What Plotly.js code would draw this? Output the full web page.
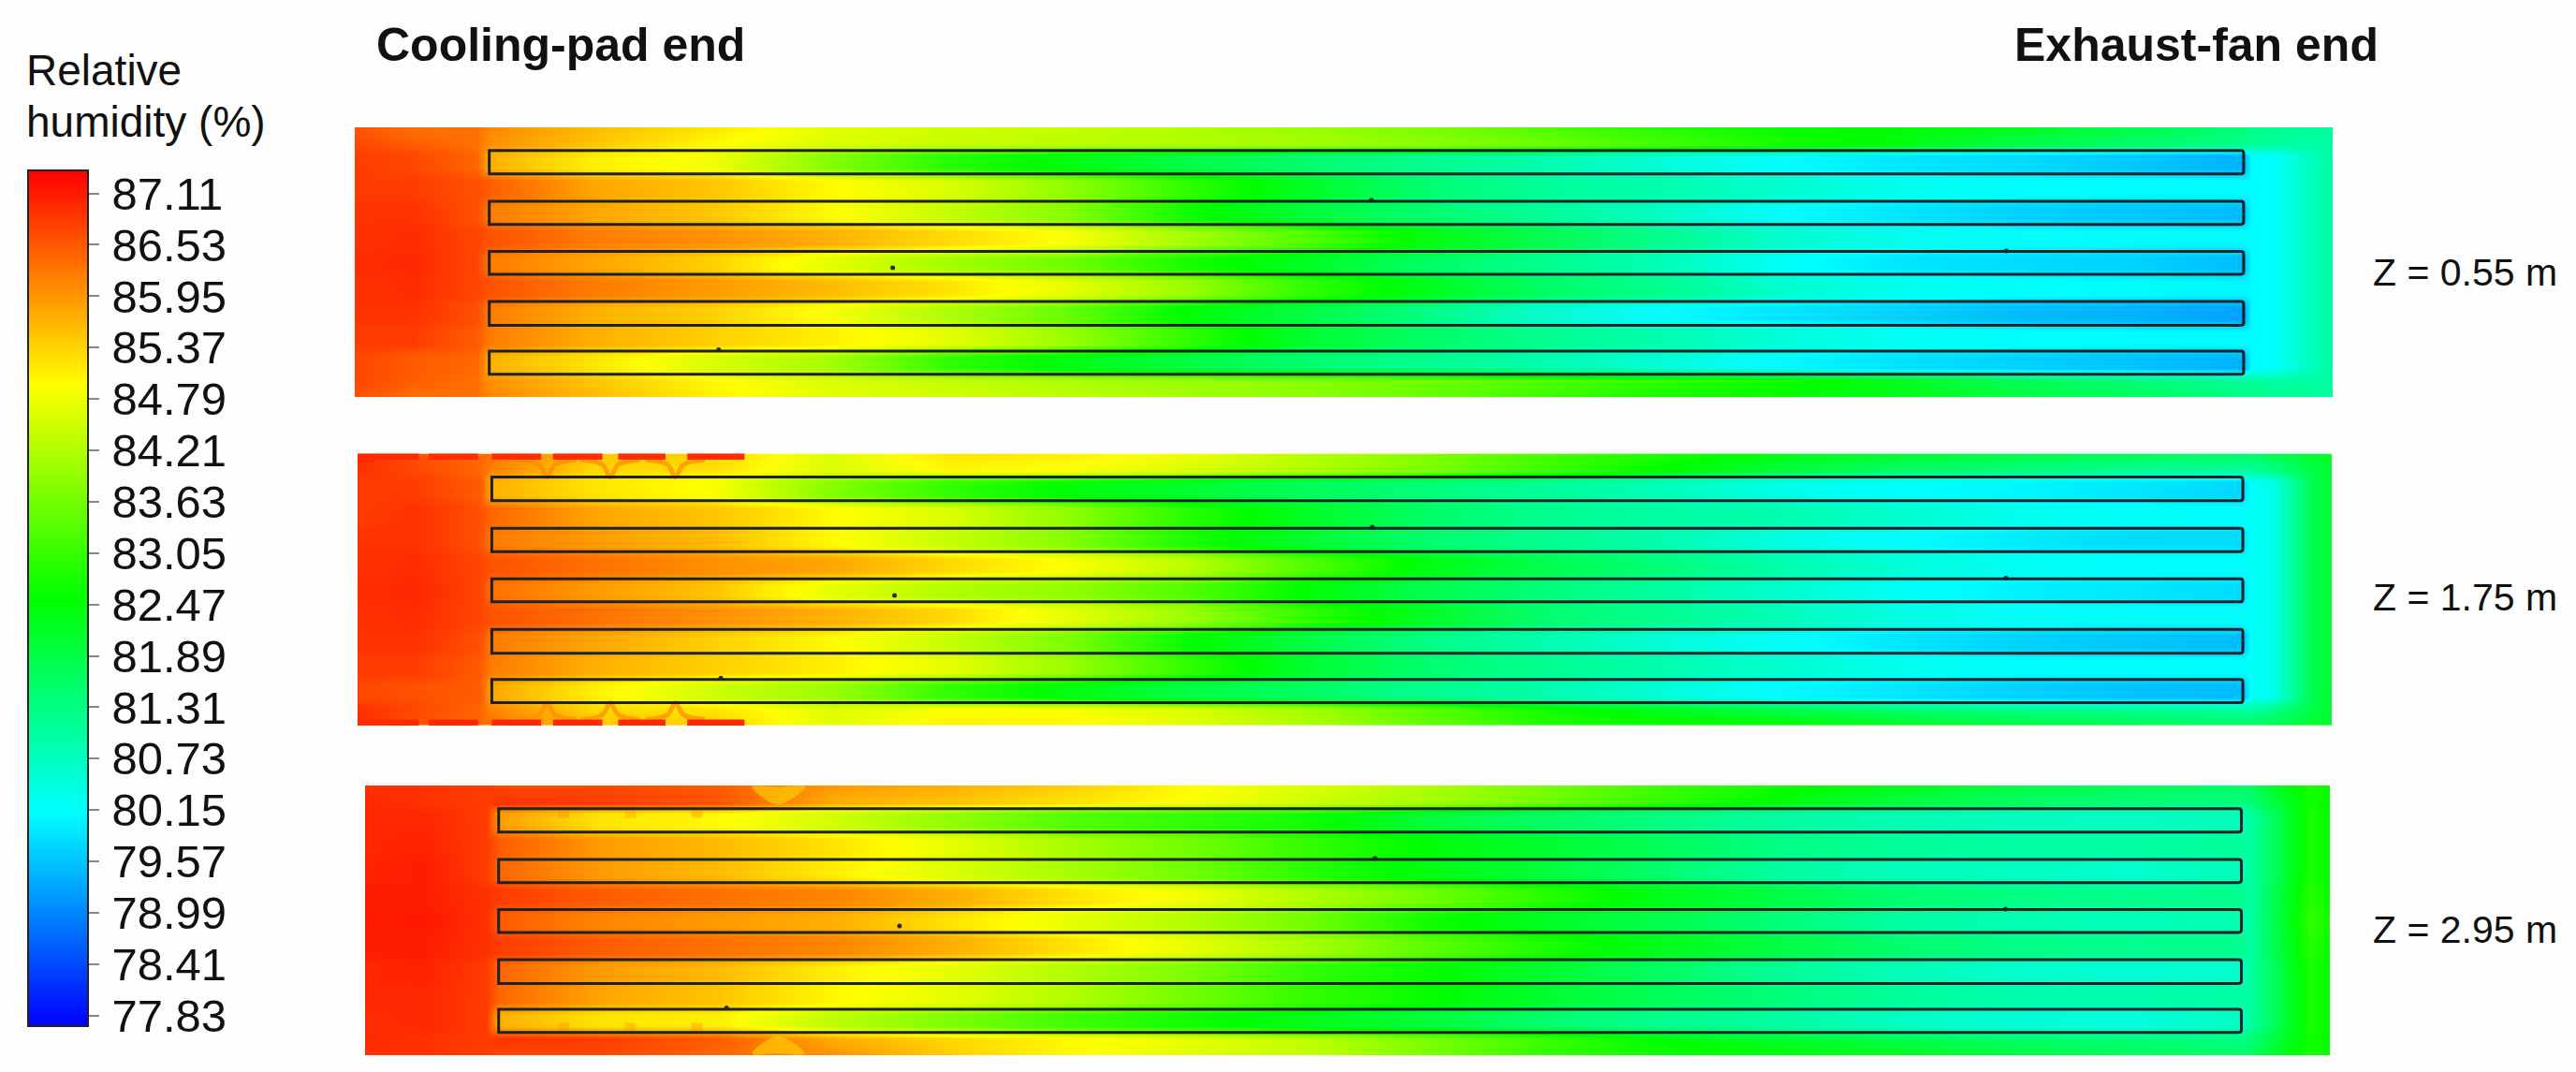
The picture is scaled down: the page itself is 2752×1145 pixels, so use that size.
<!DOCTYPE html>
<html>
<head>
<meta charset="utf-8">
<script src="https://cdn.plot.ly/plotly-3.0.1.min.js"></script>
<style>
html, body { margin: 0; padding: 0; background: #fdfdfd; }
#chart { width: 2752px; height: 1145px; }
</style>
</head>
<body>
<div id="chart"></div>
<script>
const WIDTH = 2752;
const HEIGHT = 1145;
const FONT = '"Liberation Sans", Arial, sans-serif';

// positions along and across the house, in % of its length and width
const xCols = [0, 3, 6.2, 6.8, 12, 18, 24, 30, 36, 42, 48, 54, 60, 66, 72, 78, 84, 90, 95.5, 95.9, 97, 99, 100];
const yRows = [0, 6.5, 10.5, 15.4, 19.8, 24.9, 29.5, 33.9, 38.5, 43.5, 48.1, 52.4, 57, 62.1, 66.8, 71.2, 75.8, 80.6, 85.2, 89.4, 93.7, 100];
// which line of the section tables is used at each of yRows
const rowOfBand = [0, 1, 2, 2, 3, 3, 4, 4, 5, 5, 6, 6, 7, 7, 8, 8, 9, 9, 10, 10, 11, 12];

// relative humidity: wall, wall side, channel 1, gap, channel 2 ... channel 5, wall side, wall
const rhLow = [
    [86.6, 86.3, 86.3, 86.1, 85.6, 85.2, 84.7, 84.5, 84.4, 84.2, 84.0, 83.7, 83.3, 82.9, 82.6, 82.5, 82.3, 81.9, 81.4, 81.3, 81.2, 81.1, 81.1],
    [86.7, 86.5, 86.3, 86.0, 85.5, 85.0, 84.6, 84.4, 84.3, 84.2, 84.1, 83.9, 83.6, 83.2, 82.8, 82.4, 81.8, 81.5, 81.2, 81.1, 81.0, 81.0, 81.0],
    [86.8, 86.7, 86.4, 85.7, 85.1, 84.85, 83.8, 82.9, 82.4, 81.9, 81.5, 81.2, 80.9, 80.5, 80.15, 79.9, 79.8, 79.6, 79.4, 80.1, 80.15, 80.8, 81.0],
    [86.8, 86.8, 86.6, 86.5, 85.8, 85.5, 85.0, 84.6, 83.9, 83.0, 82.2, 81.5, 81.1, 80.9, 80.6, 80.3, 80.15, 80.1, 80.1, 80.1, 80.15, 80.8, 81.0],
    [86.9, 86.9, 86.6, 86.2, 85.8, 85.5, 85.0, 84.4, 83.8, 82.7, 82.0, 81.5, 81.1, 80.7, 80.15, 79.9, 79.7, 79.6, 79.5, 80.1, 80.15, 80.8, 81.0],
    [86.9, 86.95, 86.7, 86.6, 86.2, 86.0, 85.7, 85.3, 84.9, 84.1, 83.3, 82.4, 81.8, 81.2, 80.6, 80.3, 80.15, 80.1, 80.1, 80.1, 80.15, 80.8, 81.0],
    [86.95, 87.0, 86.7, 86.2, 85.8, 85.4, 84.7, 84.1, 83.6, 82.8, 82.2, 81.6, 81.2, 80.8, 80.2, 79.9, 79.8, 79.7, 79.5, 80.1, 80.15, 80.8, 81.0],
    [86.9, 86.95, 86.7, 86.6, 86.2, 85.9, 85.6, 85.2, 84.7, 84.0, 83.0, 82.3, 81.6, 81.2, 80.6, 80.3, 80.15, 80.1, 80.05, 80.1, 80.15, 80.8, 81.0],
    [86.9, 86.9, 86.6, 86.2, 85.7, 85.4, 84.9, 84.2, 83.5, 82.5, 81.9, 81.3, 80.6, 80.15, 79.9, 79.7, 79.5, 79.4, 79.25, 80.1, 80.15, 80.8, 81.0],
    [86.8, 86.8, 86.5, 86.2, 85.7, 85.4, 85.1, 84.7, 84.0, 83.0, 82.1, 81.6, 81.2, 80.9, 80.5, 80.25, 80.15, 80.1, 80.1, 80.1, 80.15, 80.8, 81.0],
    [86.7, 86.5, 86.4, 85.7, 85.2, 84.6, 84.1, 83.0, 82.4, 81.9, 81.5, 81.2, 80.9, 80.5, 80.1, 79.85, 79.7, 79.55, 79.4, 80.1, 80.15, 80.8, 81.0],
    [86.7, 86.5, 86.3, 86.0, 85.5, 85.0, 84.6, 84.4, 84.2, 84.0, 83.8, 83.6, 83.3, 83.0, 82.7, 82.3, 81.7, 81.4, 81.1, 81.1, 81.0, 81.0, 81.0],
    [86.6, 86.3, 86.3, 86.1, 85.6, 85.1, 84.7, 84.5, 84.3, 84.1, 83.9, 83.5, 83.1, 82.7, 82.5, 82.3, 82.0, 81.7, 81.3, 81.3, 81.2, 81.1, 81.1]
];

const rhMid = [
    [87.0, 86.6, 86.4, 86.3, 85.5, 85.4, 84.6, 85.2, 85.1, 84.8, 84.3, 83.8, 83.2, 82.8, 82.4, 82.1, 81.9, 81.7, 81.6, 81.6, 81.8, 82.1, 82.2],
    [86.9, 86.7, 86.4, 86.1, 85.3, 85.2, 84.6, 85.0, 84.9, 84.6, 84.2, 83.7, 83.1, 82.5, 81.9, 81.5, 81.3, 81.1, 81.0, 81.0, 81.2, 81.9, 82.1],
    [86.8, 86.8, 86.5, 85.7, 85.2, 84.9, 83.8, 83.0, 82.5, 82.1, 81.7, 81.4, 81.1, 80.8, 80.35, 80.15, 80.05, 79.9, 79.75, 80.2, 80.3, 81.8, 82.1],
    [86.8, 86.9, 86.6, 86.4, 85.8, 85.5, 85.0, 84.6, 83.9, 82.9, 82.2, 81.6, 81.2, 81.0, 80.9, 80.6, 80.3, 80.2, 80.15, 80.2, 80.3, 81.8, 82.1],
    [86.9, 86.9, 86.6, 86.2, 85.9, 85.6, 85.0, 84.4, 83.8, 82.8, 82.1, 81.5, 81.2, 80.9, 80.4, 80.15, 79.95, 79.8, 79.8, 80.2, 80.3, 81.8, 82.1],
    [86.9, 86.95, 86.7, 86.6, 86.3, 86.0, 85.8, 85.3, 84.9, 84.3, 83.3, 82.4, 81.8, 81.4, 80.9, 80.5, 80.25, 80.15, 80.15, 80.2, 80.3, 81.8, 82.1],
    [86.95, 87.0, 86.7, 86.3, 85.9, 85.5, 84.7, 84.2, 83.9, 83.3, 82.5, 81.8, 81.4, 81.0, 80.6, 80.2, 80.0, 79.9, 79.8, 80.2, 80.3, 81.8, 82.1],
    [86.9, 86.95, 86.7, 86.6, 86.3, 86.0, 85.7, 85.3, 84.7, 84.0, 83.0, 82.2, 81.5, 81.2, 80.8, 80.4, 80.2, 80.15, 80.15, 80.2, 80.3, 81.8, 82.1],
    [86.9, 86.9, 86.6, 86.2, 85.8, 85.4, 85.0, 84.4, 83.7, 82.6, 81.9, 81.3, 80.9, 80.5, 80.2, 79.9, 79.7, 79.6, 79.5, 80.2, 80.3, 81.8, 82.1],
    [86.8, 86.8, 86.5, 86.2, 85.7, 85.4, 85.1, 84.7, 84.0, 83.0, 82.1, 81.5, 81.2, 80.9, 80.6, 80.3, 80.15, 80.15, 80.15, 80.2, 80.3, 81.8, 82.1],
    [86.7, 86.6, 86.5, 85.8, 85.1, 84.5, 84.0, 83.0, 82.4, 81.9, 81.6, 81.2, 80.9, 80.5, 80.1, 79.9, 79.7, 79.55, 79.5, 80.2, 80.3, 81.8, 82.1],
    [86.9, 86.7, 86.4, 86.1, 85.3, 85.2, 84.6, 84.9, 84.9, 84.6, 84.1, 83.4, 82.7, 82.2, 81.8, 81.4, 81.2, 81.1, 81.0, 81.0, 81.2, 81.9, 82.1],
    [87.0, 86.6, 86.4, 86.3, 85.5, 85.4, 84.7, 85.1, 85.0, 84.7, 84.2, 83.5, 82.9, 82.7, 82.6, 82.3, 82.0, 81.8, 81.6, 81.6, 81.8, 82.1, 82.2]
];

const rhHigh = [
    [86.9, 86.9, 86.8, 86.7, 86.7, 86.5, 85.9, 85.7, 85.4, 85.0, 84.6, 84.2, 83.7, 83.1, 82.7, 82.3, 81.9, 81.7, 81.6, 81.6, 82.1, 82.8, 82.6],
    [87.0, 86.9, 86.8, 86.9, 86.8, 86.6, 85.7, 85.5, 85.2, 84.9, 84.5, 84.1, 83.6, 83.0, 82.4, 81.9, 81.6, 81.4, 81.3, 81.4, 81.9, 82.7, 82.5],
    [87.0, 87.0, 86.8, 85.9, 85.2, 85.0, 84.5, 83.9, 83.3, 83.0, 82.7, 82.0, 81.6, 81.3, 81.0, 80.85, 80.75, 80.7, 80.8, 81.0, 81.6, 82.8, 82.5],
    [87.0, 87.05, 86.8, 86.5, 85.9, 85.6, 85.2, 84.7, 84.1, 83.6, 83.0, 82.5, 82.1, 81.7, 81.3, 81.1, 81.0, 81.0, 81.1, 81.0, 81.6, 82.8, 82.5],
    [87.05, 87.1, 86.8, 86.4, 85.9, 85.6, 85.1, 84.6, 84.1, 83.6, 82.9, 82.4, 82.0, 81.5, 81.0, 80.8, 80.7, 80.6, 80.8, 81.0, 81.6, 82.8, 82.5],
    [87.1, 87.1, 86.9, 86.8, 86.5, 86.3, 86.1, 85.7, 85.2, 84.8, 84.2, 83.6, 82.9, 82.3, 81.9, 81.5, 81.3, 81.2, 81.2, 81.0, 81.7, 82.9, 82.6],
    [87.1, 87.15, 86.9, 86.5, 86.1, 85.9, 85.7, 85.2, 84.7, 84.2, 83.6, 82.7, 82.2, 81.8, 81.4, 81.0, 80.85, 80.8, 80.85, 81.0, 81.7, 83.0, 82.7],
    [87.1, 87.1, 86.9, 86.8, 86.5, 86.3, 86.1, 85.7, 85.2, 84.7, 84.1, 83.4, 82.8, 82.3, 81.9, 81.5, 81.3, 81.2, 81.2, 81.0, 81.7, 82.9, 82.6],
    [87.0, 87.05, 86.8, 86.4, 85.9, 85.6, 85.1, 84.7, 84.2, 83.7, 83.0, 82.6, 82.1, 81.6, 81.1, 80.8, 80.6, 80.5, 80.6, 81.0, 81.6, 82.8, 82.5],
    [87.0, 87.0, 86.8, 86.4, 85.8, 85.5, 85.0, 84.7, 84.2, 83.6, 83.0, 82.6, 82.1, 81.7, 81.4, 81.1, 80.9, 80.9, 81.0, 81.0, 81.6, 82.8, 82.5],
    [86.95, 87.0, 86.8, 85.7, 85.2, 85.1, 84.3, 83.7, 83.1, 82.7, 82.3, 82.0, 81.5, 81.2, 81.0, 80.7, 80.5, 80.45, 80.7, 81.0, 81.6, 82.8, 82.5],
    [87.0, 86.9, 86.8, 86.9, 86.8, 86.5, 85.7, 85.3, 85.0, 84.7, 84.3, 83.7, 83.1, 82.5, 82.1, 81.8, 81.5, 81.4, 81.3, 81.4, 81.9, 82.7, 82.5],
    [86.9, 86.9, 86.8, 86.7, 86.7, 86.4, 86.0, 85.4, 85.0, 84.7, 84.4, 83.7, 83.0, 82.7, 82.5, 82.3, 82.0, 81.7, 81.6, 81.6, 82.1, 82.8, 82.6]
];

const sectionLabels = ["Z = 0.55 m", "Z = 1.75 m", "Z = 2.95 m"];

// channels seen in every section
const channelLeft = 6.8;
const channelRight = 95.5;
const channelTop = [8.6, 27.4, 46, 64.6, 83];
const channelBottom = [17.3, 36, 54.5, 73.4, 91.6];

// tiny dots on the channels
const probeX = [27.2, 51.4, 83.5, 18.4];
const probeY = [52.1, 27, 45.8, 82.5];

// red dashes along the side walls at Z = 1.75 m, with the joints between the lobes
const dashStart = [0, 3.6, 6.8, 9.9, 13.2, 16.7];
const dashEnd = [3.1, 6.1, 9.3, 12.4, 15.6, 19.6];
const lobeJoints = [9.6, 12.8, 16.1];
const highLobeJoints = [10.1, 13.5, 16.9];
const highLensX = [19.7, 21, 22.4, 21, 19.7];
const highLensTopY = [0.5, 7, 0.5, 0.5, 0.5];
const highLensBottomY = [99.5, 93, 99.5, 99.5, 99.5];

const colourTicks = [87.11, 86.53, 85.95, 85.37, 84.79, 84.21, 83.63, 83.05, 82.47, 81.89, 81.31, 80.73, 80.15, 79.57, 78.99, 78.41, 77.83];
const colourMin = 77.71;
const colourMax = 87.37;

const RAINBOW = [[0, "#0000ff"], [0.25, "#00ffff"], [0.5, "#00ff00"], [0.75, "#ffff00"], [1, "#ff0000"]];

// pixel boxes of the three sections: left, right, top, bottom
const sectionBoxes = [
    [379, 2492, 136, 424],
    [382, 2491, 484.6, 775],
    [390, 2489, 839, 1127]
];

function xDomain(box) {
    return [box[0] / WIDTH, box[1] / WIDTH];
}

function yDomain(box) {
    return [1 - box[3] / HEIGHT, 1 - box[2] / HEIGHT];
}

function channelPath(top, bottom) {
    const rx = 0.14;
    const ry = 1;
    return `M ${channelLeft},${top} L ${channelRight - rx},${top} Q ${channelRight},${top} ${channelRight},${top + ry} ` +
        `L ${channelRight},${bottom - ry} Q ${channelRight},${bottom} ${channelRight - rx},${bottom} ` +
        `L ${channelLeft},${bottom} Z`;
}

function createChannelShapes(axisSuffix) {
    return channelTop.map((top, i) => ({
        type: "path",
        xref: "x" + axisSuffix,
        yref: "y" + axisSuffix,
        path: channelPath(top, channelBottom[i]),
        line: { color: "#1c2226", width: 3 },
        layer: "above"
    }));
}

function createLineTrace(xs, ys, axisSuffix, colour, width, opacity, shape) {
    return {
        type: "scatter",
        mode: "lines",
        x: xs,
        y: ys,
        xaxis: "x" + axisSuffix,
        yaxis: "y" + axisSuffix,
        opacity: opacity,
        line: { color: colour, width: width, shape: shape || "linear" },
        hoverinfo: "skip",
        showlegend: false
    };
}

function createSectionTraces(values, axisSuffix) {
    const heatmap = {
        type: "heatmap",
        x: xCols,
        y: yRows,
        z: rowOfBand.map((row) => values[row]),
        zsmooth: "best",
        coloraxis: "coloraxis",
        xaxis: "x" + axisSuffix,
        yaxis: "y" + axisSuffix,
        hoverinfo: "skip"
    };
    const probes = {
        type: "scatter",
        mode: "markers",
        x: probeX,
        y: probeY,
        xaxis: "x" + axisSuffix,
        yaxis: "y" + axisSuffix,
        marker: { color: "#2a2a2a", size: 5 },
        hoverinfo: "skip",
        showlegend: false
    };
    return [heatmap, probes];
}

function createWallDashes(axisSuffix) {
    const traces = [];
    lobeJoints.forEach((x) => {
        const armX = [x - 1.5, x - 0.4, x, x + 0.4, x + 1.5];
        traces.push(createLineTrace(armX, [2.2, 4, 8.6, 4, 2.2], axisSuffix, "#ff8a00", 5, 0.7, "spline"));
        traces.push(createLineTrace(armX, [97.8, 96, 91.6, 96, 97.8], axisSuffix, "#ff8a00", 5, 0.7, "spline"));
    });
    dashStart.forEach((start, i) => {
        traces.push(createLineTrace([start, dashEnd[i]], [1, 1], axisSuffix, "#ff2a00", 7, 1));
        traces.push(createLineTrace([start, dashEnd[i]], [99, 99], axisSuffix, "#ff2a00", 7, 1));
    });
    return traces;
}

function createLensTrace(ys, axisSuffix) {
    return {
        type: "scatter",
        mode: "none",
        x: highLensX,
        y: ys,
        xaxis: "x" + axisSuffix,
        yaxis: "y" + axisSuffix,
        fill: "toself",
        fillcolor: "rgba(255, 215, 0, 0.6)",
        line: { shape: "spline" },
        hoverinfo: "skip",
        showlegend: false
    };
}

function createHighLobes(axisSuffix) {
    const traces = [];
    highLobeJoints.forEach((x) => {
        traces.push(createLineTrace([x, x], [8.6, 12], axisSuffix, "#ff8a00", 12, 0.35));
        traces.push(createLineTrace([x, x], [88, 91.6], axisSuffix, "#ff8a00", 12, 0.35));
    });
    traces.push(createLensTrace(highLensTopY, axisSuffix));
    traces.push(createLensTrace(highLensBottomY, axisSuffix));
    return traces;
}

function createAxis(domain, range, anchor) {
    return { domain: domain, range: range, anchor: anchor, visible: false, fixedrange: true };
}

function createText(text, xPx, yPx, size, anchor, bold) {
    return {
        text: bold ? `<b>${text}</b>` : text,
        xref: "paper",
        yref: "paper",
        x: xPx / WIDTH,
        y: 1 - yPx / HEIGHT,
        xanchor: anchor,
        yanchor: "middle",
        showarrow: false,
        font: { family: FONT, size: size, color: "#111111" }
    };
}

const axisSuffixes = ["", "2", "3"];
const sections = [rhLow, rhMid, rhHigh];

let data = [];
let shapes = [];
const layout = {
    width: WIDTH,
    height: HEIGHT,
    paper_bgcolor: "#fdfdfd",
    plot_bgcolor: "#fdfdfd",
    margin: { l: 0, r: 0, t: 0, b: 0, autoexpand: false },
    showlegend: false,
    font: { family: FONT, color: "#111111" },
    coloraxis: {
        cmin: colourMin,
        cmax: colourMax,
        colorscale: RAINBOW,
        colorbar: {
            x: 30 / WIDTH,
            xanchor: "left",
            xpad: 0,
            y: 1 - 639 / HEIGHT,
            yanchor: "middle",
            ypad: 0,
            len: 914,
            lenmode: "pixels",
            thickness: 64,
            thicknessmode: "pixels",
            outlinecolor: "#222222",
            outlinewidth: 2,
            tickmode: "array",
            tickvals: colourTicks,
            ticktext: colourTicks.map((v) => "\u200a" + v.toFixed(2)),
            ticks: "outside",
            ticklen: 11,
            tickwidth: 2,
            tickcolor: "#888888",
            tickfont: { family: FONT, size: 49, color: "#111111" }
        }
    },
    annotations: [
        createText("Relative", 26, 75, 46, "left", false),
        createText("humidity (%)", 26, 130, 46, "left", false),
        createText("Cooling-pad end", 400, 48, 50, "left", true),
        createText("Exhaust-fan end", 2150, 48, 50, "left", true)
    ]
};

sections.forEach((values, i) => {
    const suffix = axisSuffixes[i];
    const box = sectionBoxes[i];
    data = data.concat(createSectionTraces(values, suffix));
    shapes = shapes.concat(createChannelShapes(suffix));
    layout["xaxis" + suffix] = createAxis(xDomain(box), [0, 100], "y" + suffix);
    layout["yaxis" + suffix] = createAxis(yDomain(box), [100, 0], "x" + suffix);
});

data = data.concat(createWallDashes("2"), createHighLobes("3"));
layout.shapes = shapes;

[291, 638, 993].forEach((y, i) => {
    layout.annotations.push(createText(sectionLabels[i], 2533, y, 41, "left", false));
});

Plotly.newPlot("chart", data, layout, { displayModeBar: false, staticPlot: true });
</script>
</body>
</html>
